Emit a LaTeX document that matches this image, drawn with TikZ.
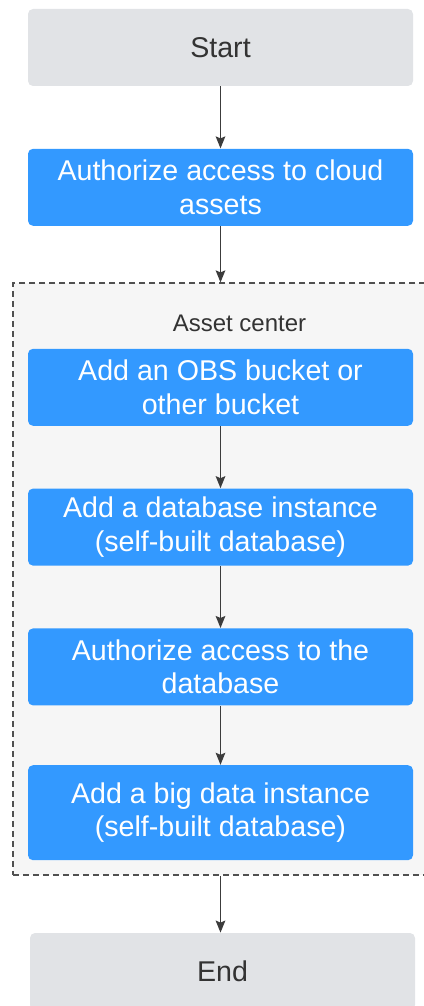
\documentclass[tikz,border=0pt]{standalone}
\usepackage{fontspec}
\setmainfont{Liberation Sans}
\usepackage{xcolor}
\usepackage{tikz}
\usetikzlibrary{arrows.meta, positioning}
\definecolor{stepblue}{RGB}{51, 153, 255}
\definecolor{endgrey}{RGB}{225, 227, 230}
\definecolor{groupgrey}{RGB}{246, 246, 246}
\definecolor{darktext}{RGB}{51, 51, 51}
\definecolor{arrowgrey}{RGB}{60, 60, 60}
\definecolor{dashgrey}{RGB}{80, 80, 80}

\begin{document}
\begin{tikzpicture}[
    node distance = 31pt,
    stepbox/.style = {
        rectangle, rounded corners=2.5pt,
        draw=none, fill=stepblue,
        minimum width=192.5pt, minimum height=38.5pt,
        align=center, inner sep=2pt,
        font=\fontsize{14.3}{16.8}\selectfont\color{white}
    },
    termbox/.style = {
        rectangle, rounded corners=2.5pt,
        draw=none, fill=endgrey,
        minimum width=192.5pt, minimum height=38.5pt,
        align=center, inner sep=2pt,
        font=\fontsize{14.3}{16.8}\selectfont\color{darktext}
    },
    groupbox/.style = {
        rectangle, draw=dashgrey, fill=groupgrey,
        line width=0.6pt, dash pattern=on 3pt off 2pt,
        minimum width=207.5pt, minimum height=296pt, inner sep=0pt
    },
    arr/.style = {-{Stealth[length=6pt, width=4.8pt, inset=1pt]}, arrowgrey, line width=0.8pt},
    grouptitle/.style = {font=\fontsize{12}{14}\selectfont\color{darktext}},
]
\useasboundingbox (0,0) rectangle (211.5pt,-503pt);

% Top: start
\node[termbox] (start) at (110.25pt,-23.75pt) {Start};
\node[stepbox, below=of start] (authcloud) {Authorize access to cloud\\assets};

% Asset center group
\node[groupbox] (assets) at (110.25pt,-289.5pt) {};
\node[grouptitle] (assettitle) at (119.75pt,-161.5pt) {Asset center};

\node[stepbox, below=33pt of assets.north] (obs) {Add an OBS bucket or\\other bucket};
\node[stepbox, below=of obs]                (dbinst) {Add a database instance\\(self-built database)};
\node[stepbox, below=of dbinst]             (authdb) {Authorize access to the\\database};
\node[stepbox, below=29.5pt of authdb, minimum height=47.5pt] (bigdata)
    {Add a big data instance\\(self-built database)};

% Bottom: end
\node[termbox, below=28.5pt of assets, xshift=1pt] (end) {End};

% Arrows
\draw[arr] (start)     -- (authcloud);
\draw[arr] (authcloud) -- (assets);
\draw[arr] (obs)       -- (dbinst);
\draw[arr] (dbinst)    -- (authdb);
\draw[arr] (authdb)    -- (bigdata);
\draw[arr] (assets.south) -- (assets.south |- end.north);

\end{tikzpicture}
\end{document}
